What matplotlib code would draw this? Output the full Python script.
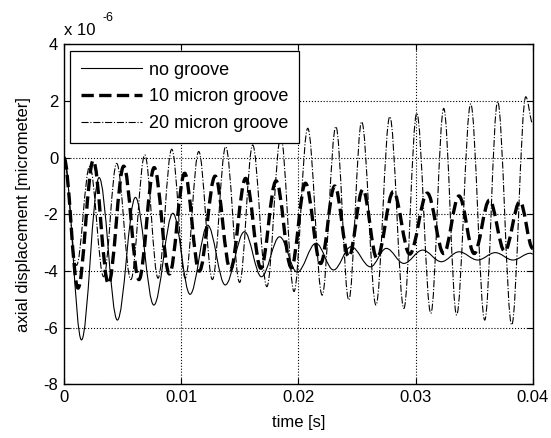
import numpy as np
import matplotlib
matplotlib.use("Agg")
from matplotlib import pyplot as plt
from matplotlib.path import Path
from matplotlib.patches import PathPatch
from matplotlib.lines import Line2D

plt.rcParams['font.family'] = ['Liberation Sans', 'DejaVu Sans']
plt.rcParams['axes.unicode_minus'] = False

# peaks / troughs (time in ms, displacement in 1e-6)
t_none = [0, 1.50, 3.0, 4.56, 6.1, 7.67, 9.3, 10.76, 12.26, 13.76, 15.4, 16.85, 18.4,
          19.9, 21.5, 23.0, 24.5, 26.15, 27.5, 29.0, 30.6, 32.2, 33.7, 35.3, 36.8,
          38.3, 39.8, 40.0]
v_none = [0, -6.43, -0.7, -5.73, -1.4, -5.2, -1.96, -4.82, -2.38, -4.49, -2.61, -4.2,
          -2.79, -4.04, -3.02, -3.96, -3.14, -3.85, -3.2, -3.73, -3.26, -3.67, -3.32,
          -3.61, -3.35, -3.61, -3.37, -3.4]

t_10 = [0, 1.2, 2.5, 3.8, 5.1, 6.4, 7.7, 9.0, 10.3, 11.55, 12.9, 14.2, 15.5, 16.8,
        18.1, 19.4, 20.6, 21.9, 23.1, 24.3, 25.5, 26.7, 28.1, 29.5, 31.0, 32.4, 33.7,
        35.0, 36.3, 37.6, 38.9, 40.0]
v_10 = [0, -4.6, -0.1, -4.45, -0.3, -4.3, -0.35, -4.1, -0.55, -4.0, -0.65, -3.95,
        -0.73, -3.9, -0.82, -3.88, -0.9, -3.73, -1.0, -3.5, -1.12, -3.55, -1.2, -3.4,
        -1.25, -3.38, -1.35, -3.38, -1.5, -3.3, -1.55, -3.2]

t_20 = [0, 1.07, 2.2, 3.39, 4.5, 5.71, 6.9, 8.03, 9.2, 10.35, 11.5, 12.67, 13.8, 14.99,
        16.1, 17.31, 18.5, 19.63, 20.8, 22.03, 23.2, 24.3, 25.4, 26.62, 27.8, 29.0,
        30.1, 31.3, 32.4, 33.5, 34.7, 35.9, 37.0, 38.2, 39.4, 40.0]
v_20 = [0, -3.8, -0.3, -4.2, -0.2, -4.3, 0.1, -4.25, 0.3, -4.25, 0.22, -4.3, 0.39,
        -4.4, 0.45, -4.55, 0.74, -4.72, 1.04, -4.85, 1.1, -5.02, 1.27, -5.2, 1.45,
        -5.32, 1.57, -5.49, 1.74, -5.55, 1.9, -5.73, 1.98, -5.9, 2.15, 1.2]

labels = ["no groove", "10 micron groove", "20 micron groove"]


def smooth_path(t, v):
    # curve through the read extrema, flat at each peak/trough
    t = np.array(t) / 1000.0
    verts = [(t[0], v[0])]
    codes = [Path.MOVETO]
    for i in range(len(t) - 1):
        dt = t[i + 1] - t[i]
        verts += [(t[i] + 0.36 * dt, v[i]), (t[i + 1] - 0.36 * dt, v[i + 1]),
                  (t[i + 1], v[i + 1])]
        codes += [Path.CURVE4] * 3
    return Path(verts, codes)


fig = plt.figure(figsize=(5.51, 4.38), dpi=100)
ax = fig.add_axes([0.116, 0.1224, 0.851, 0.7762])

styles = [('-', 0.8), ('--', 2.4), ('-.', 0.8)]
series = [(t_none, v_none), (t_10, v_10), (t_20, v_20)]
handles = []
for (t, v), (ls, lw), lab in zip(series, styles, labels):
    ax.add_patch(PathPatch(smooth_path(t, v), fill=False, edgecolor='k',
                           linestyle=ls, linewidth=lw))
    handles.append(Line2D([], [], color='k', linestyle=ls, linewidth=lw, label=lab))

ax.set_xlim(0, 0.04)
ax.set_ylim(-8, 4)
ax.set_xticks([0, 0.01, 0.02, 0.03, 0.04])
ax.set_xticklabels(["0", "0.01", "0.02", "0.03", "0.04"])
ax.set_yticks([-8, -6, -4, -2, 0, 2, 4])
ax.grid(True, color='k', linestyle=':', linewidth=0.8)
ax.set_axisbelow(True)
ax.tick_params(direction='in', top=True, right=True, labelsize=12, length=4, pad=4)
for s in ax.spines.values():
    s.set_linewidth(1.0)

ax.set_xlabel("time [s]", fontsize=12, labelpad=7)
ax.set_ylabel("axial displacement [micrometer]", fontsize=12, labelpad=9)
ax.text(0.0, 1.02, "x 10", transform=ax.transAxes, fontsize=12,
        ha='left', va='bottom')
ax.text(0.083, 1.06, "-6", transform=ax.transAxes, fontsize=9,
        ha='left', va='bottom')

leg = ax.legend(handles=handles, loc='upper left', fontsize=13, fancybox=False,
                framealpha=1, edgecolor='k', borderaxespad=0.35, handlelength=3.4,
                handletextpad=0.35, labelspacing=0.55, borderpad=0.6)
leg.get_frame().set_linewidth(0.9)

fig.savefig("out.png", dpi=100)
